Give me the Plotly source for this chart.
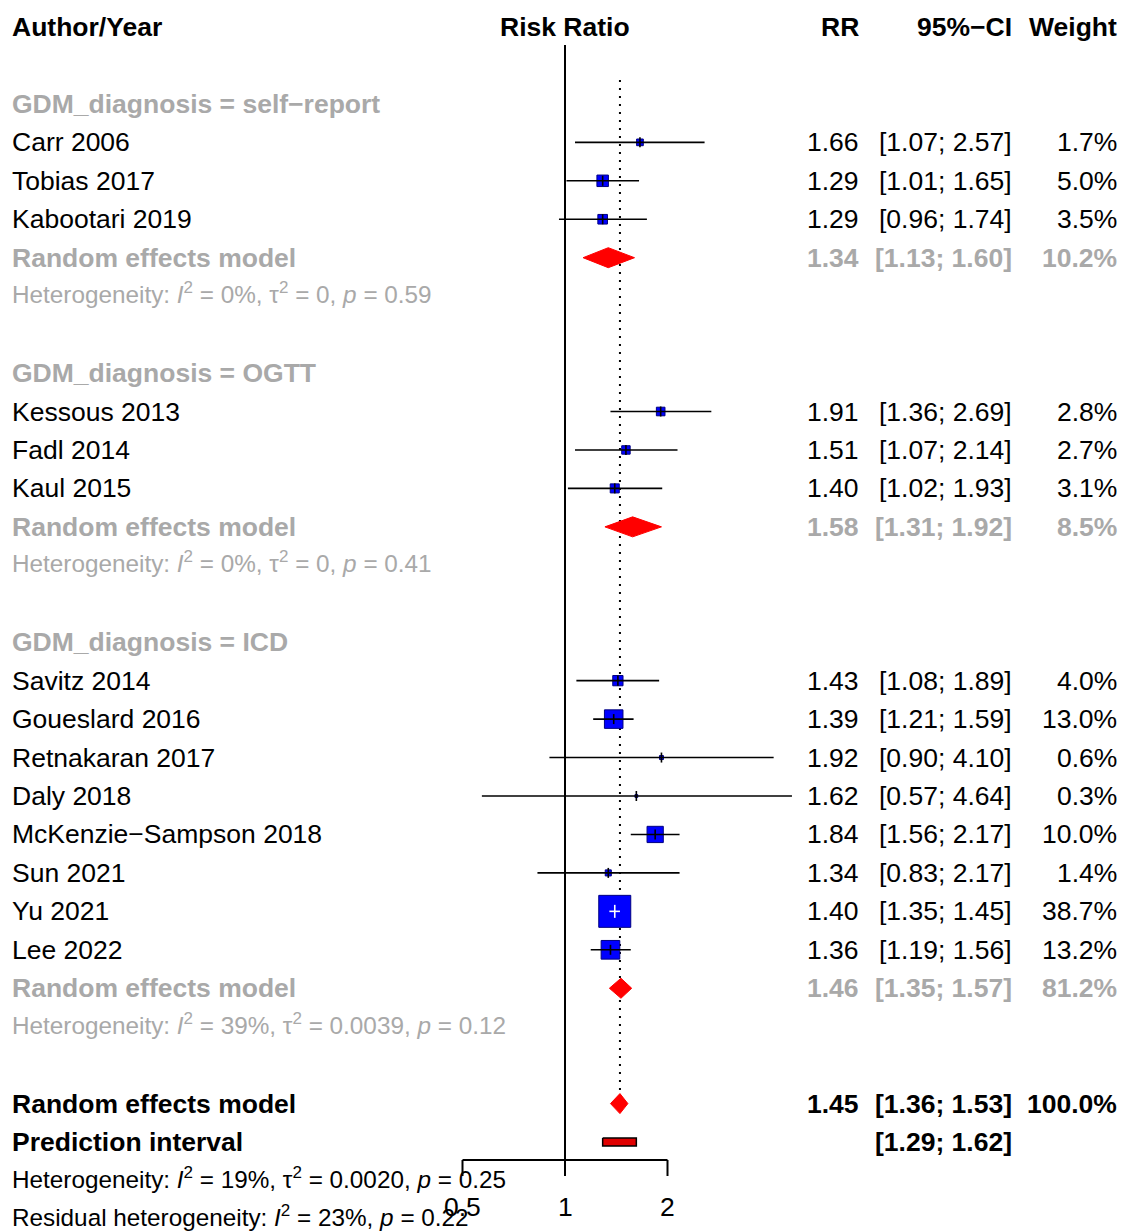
import math
import plotly.graph_objects as go

# ---------------- data ----------------
group_labels = ["GDM_diagnosis = self\u2212report", "GDM_diagnosis = OGTT", "GDM_diagnosis = ICD"]

studies = ["Carr 2006", "Tobias 2017", "Kabootari 2019",
           "Kessous 2013", "Fadl 2014", "Kaul 2015",
           "Savitz 2014", "Goueslard 2016", "Retnakaran 2017", "Daly 2018",
           "McKenzie\u2212Sampson 2018", "Sun 2021", "Yu 2021", "Lee 2022"]
study_group = [0, 0, 0, 1, 1, 1, 2, 2, 2, 2, 2, 2, 2, 2]
rr = [1.66, 1.29, 1.29, 1.91, 1.51, 1.40, 1.43, 1.39, 1.92, 1.62, 1.84, 1.34, 1.40, 1.36]
lo = [1.07, 1.01, 0.96, 1.36, 1.07, 1.02, 1.08, 1.21, 0.90, 0.57, 1.56, 0.83, 1.35, 1.19]
hi = [2.57, 1.65, 1.74, 2.69, 2.14, 1.93, 1.89, 1.59, 4.10, 4.64, 2.17, 2.17, 1.45, 1.56]
weight = [1.7, 5.0, 3.5, 2.8, 2.7, 3.1, 4.0, 13.0, 0.6, 0.3, 10.0, 1.4, 38.7, 13.2]

sub_rr = [1.34, 1.58, 1.46]
sub_lo = [1.13, 1.31, 1.35]
sub_hi = [1.60, 1.92, 1.57]
sub_w = [10.2, 8.5, 81.2]
sub_het = ["Heterogeneity: <i>I</i><sup>2</sup> = 0%, \u03c4<sup>2</sup> = 0, <i>p</i> = 0.59",
           "Heterogeneity: <i>I</i><sup>2</sup> = 0%, \u03c4<sup>2</sup> = 0, <i>p</i> = 0.41",
           "Heterogeneity: <i>I</i><sup>2</sup> = 39%, \u03c4<sup>2</sup> = 0.0039, <i>p</i> = 0.12"]

overall_rr, overall_lo, overall_hi, overall_w = 1.45, 1.36, 1.53, 100.0
pred_lo, pred_hi = 1.29, 1.62
overall_het = "Heterogeneity: <i>I</i><sup>2</sup> = 19%, \u03c4<sup>2</sup> = 0.0020, <i>p</i> = 0.25"
resid_het = "Residual heterogeneity: <i>I</i><sup>2</sup> = 23%, <i>p</i> = 0.22"

tick_vals = [0.5, 1, 2]
tick_text = ["0.5", "1", "2"]

# ---------------- layout constants ----------------
W, H = 1121, 1231
ROW0_PX, ROW_PX = 27.0, 38.45     # pixel centre of row 0 and row spacing
PX_PER_DEC = 102.5 / math.log10(2)
NULL_PX = 565.0
FONT = "Liberation Sans, Arial, sans-serif"
GREY = "#a9a9a9"
FS = 26.5
FS_HET = 24.3
BOX_MAX = 32.0
HET_SHIFT = 3

def px2row(p):
    return (p - ROW0_PX) / ROW_PX

# build row positions
study_rows, group_rows, sub_rows, het_rows = [], [], [], []
r = 2
for g in range(len(group_labels)):
    group_rows.append(r); r += 1
    for i, sg in enumerate(study_group):
        if sg == g:
            study_rows.append(r); r += 1
    sub_rows.append(r); r += 1
    het_rows.append(r); r += 1
    r += 1
overall_row = r
pred_row = r + 1
ohet_row = r + 2
rhet_row = r + 3

fig = go.Figure()
def line(xs, ys, color="black", width=1.6, dash=None):
    fig.add_trace(go.Scatter(x=xs, y=ys, mode="lines",
                             line=dict(color=color, width=width, dash=dash),
                             hoverinfo="skip", showlegend=False))

# null line
line([1, 1], [px2row(45), px2row(1160)], width=2)
# dotted overall line
line([overall_rr, overall_rr], [px2row(80), px2row(1090)], width=2, dash="2px,6px")

# squares
sizes = [BOX_MAX * math.sqrt(w / max(weight)) for w in weight]
fig.add_trace(go.Scatter(x=rr, y=study_rows, mode="markers",
                         marker=dict(symbol="square", size=sizes, color="#0000ff", opacity=1,
                                     line=dict(color="#000080", width=1)),
                         hoverinfo="skip", showlegend=False))

# CI lines and centre ticks
TICK_H = 5.0 / ROW_PX
for i in range(len(studies)):
    ci_px = (math.log10(hi[i]) - math.log10(lo[i])) * PX_PER_DEC
    inside = ci_px < sizes[i]
    col = "white" if inside else "black"
    line([lo[i], hi[i]], [study_rows[i], study_rows[i]], color=col)
    th = TICK_H * (1.3 if inside else 1.0)
    line([rr[i], rr[i]], [study_rows[i] - th, study_rows[i] + th], color=col)

# diamonds
DH = 10.0 / ROW_PX
def diamond(l, m, h, row):
    fig.add_trace(go.Scatter(x=[l, m, h, m, l], y=[row, row - DH, row, row + DH, row],
                             mode="lines", fill="toself", fillcolor="#ff0000",
                             line=dict(color="#ff0000", width=1), hoverinfo="skip", showlegend=False))
for g in range(len(group_labels)):
    diamond(sub_lo[g], sub_rr[g], sub_hi[g], sub_rows[g])
diamond(overall_lo, overall_rr, overall_hi, overall_row)

# prediction interval bar
PH = 4.0 / ROW_PX
fig.add_trace(go.Scatter(x=[pred_lo, pred_hi, pred_hi, pred_lo, pred_lo],
                         y=[pred_row - PH, pred_row - PH, pred_row + PH, pred_row + PH, pred_row - PH],
                         mode="lines", fill="toself", fillcolor="#e00000",
                         line=dict(color="black", width=1.5), hoverinfo="skip", showlegend=False))

# x axis (drawn in data coordinates)
AX_ROW = px2row(1160)
TICK_END = px2row(1176)
line([tick_vals[0], tick_vals[-1]], [AX_ROW, AX_ROW], width=2)
for tv in tick_vals:
    line([tv, tv], [AX_ROW, TICK_END], width=2)

# ---------------- text ----------------
ann = []
def txt(xpx, row, s, anchor="left", bold=False, color="black", size=FS, xdata=None, yshift=0):
    if bold:
        s = "<b>" + s + "</b>"
    if xdata is None:
        xv, xr = xpx / W, "paper"
    else:
        xv, xr = math.log10(xdata), "x"
    ann.append(dict(x=xv, xref=xr, y=row, yref="y", text=s, showarrow=False, yshift=yshift,
                    xanchor=anchor, yanchor="middle", font=dict(family=FONT, size=size, color=color)))

X_LEFT, X_RR, X_CI, X_W = 10, 861, 1014, 1119
txt(X_LEFT, 0, "Author/Year", bold=True)
txt(None, 0, "Risk Ratio", anchor="center", bold=True, xdata=1)
txt(X_RR, 0, "RR", anchor="right", bold=True)
txt(X_CI, 0, "95%\u2212CI", anchor="right", bold=True)
txt(X_W, 0, "Weight", anchor="right", bold=True)

for i, s in enumerate(studies):
    row = study_rows[i]
    txt(X_LEFT, row, s)
    txt(X_RR, row, f"{rr[i]:.2f}", anchor="right")
    txt(X_CI, row, f"[{lo[i]:.2f}; {hi[i]:.2f}]", anchor="right")
    txt(X_W, row, f"{weight[i]:.1f}%", anchor="right")

for g in range(len(group_labels)):
    txt(X_LEFT, group_rows[g], group_labels[g], bold=True, color=GREY)
    txt(X_LEFT, sub_rows[g], "Random effects model", bold=True, color=GREY)
    txt(X_RR, sub_rows[g], f"{sub_rr[g]:.2f}", anchor="right", bold=True, color=GREY)
    txt(X_CI, sub_rows[g], f"[{sub_lo[g]:.2f}; {sub_hi[g]:.2f}]", anchor="right", bold=True, color=GREY)
    txt(X_W, sub_rows[g], f"{sub_w[g]:.1f}%", anchor="right", bold=True, color=GREY)
    txt(X_LEFT, het_rows[g], sub_het[g], color=GREY, size=FS_HET, yshift=HET_SHIFT)

txt(X_LEFT, overall_row, "Random effects model", bold=True)
txt(X_RR, overall_row, f"{overall_rr:.2f}", anchor="right", bold=True)
txt(X_CI, overall_row, f"[{overall_lo:.2f}; {overall_hi:.2f}]", anchor="right", bold=True)
txt(X_W, overall_row, f"{overall_w:.1f}%", anchor="right", bold=True)
txt(X_LEFT, pred_row, "Prediction interval", bold=True)
txt(X_CI, pred_row, f"[{pred_lo:.2f}; {pred_hi:.2f}]", anchor="right", bold=True)
txt(X_LEFT, ohet_row, overall_het, size=FS_HET, yshift=HET_SHIFT)
txt(X_LEFT, rhet_row, resid_het, size=FS_HET, yshift=HET_SHIFT)

LABEL_ROW = px2row(1207)
for tv, tt in zip(tick_vals, tick_text):
    txt(None, LABEL_ROW, tt, anchor="center", xdata=tv)

# ---------------- axes ----------------
x_lo = -NULL_PX / PX_PER_DEC
x_hi = (W - NULL_PX) / PX_PER_DEC
fig.update_layout(
    width=W, height=H, margin=dict(l=0, r=0, t=0, b=0, pad=0),
    paper_bgcolor="white", plot_bgcolor="white",
    xaxis=dict(type="log", range=[x_lo, x_hi], visible=False, fixedrange=True),
    yaxis=dict(range=[px2row(H), px2row(0)], visible=False, fixedrange=True),
    annotations=ann,
    showlegend=False,
)

fig.write_html("out.html", config={"displayModeBar": False},
               post_script="document.body.style.margin='0';document.body.style.overflow='hidden';")
